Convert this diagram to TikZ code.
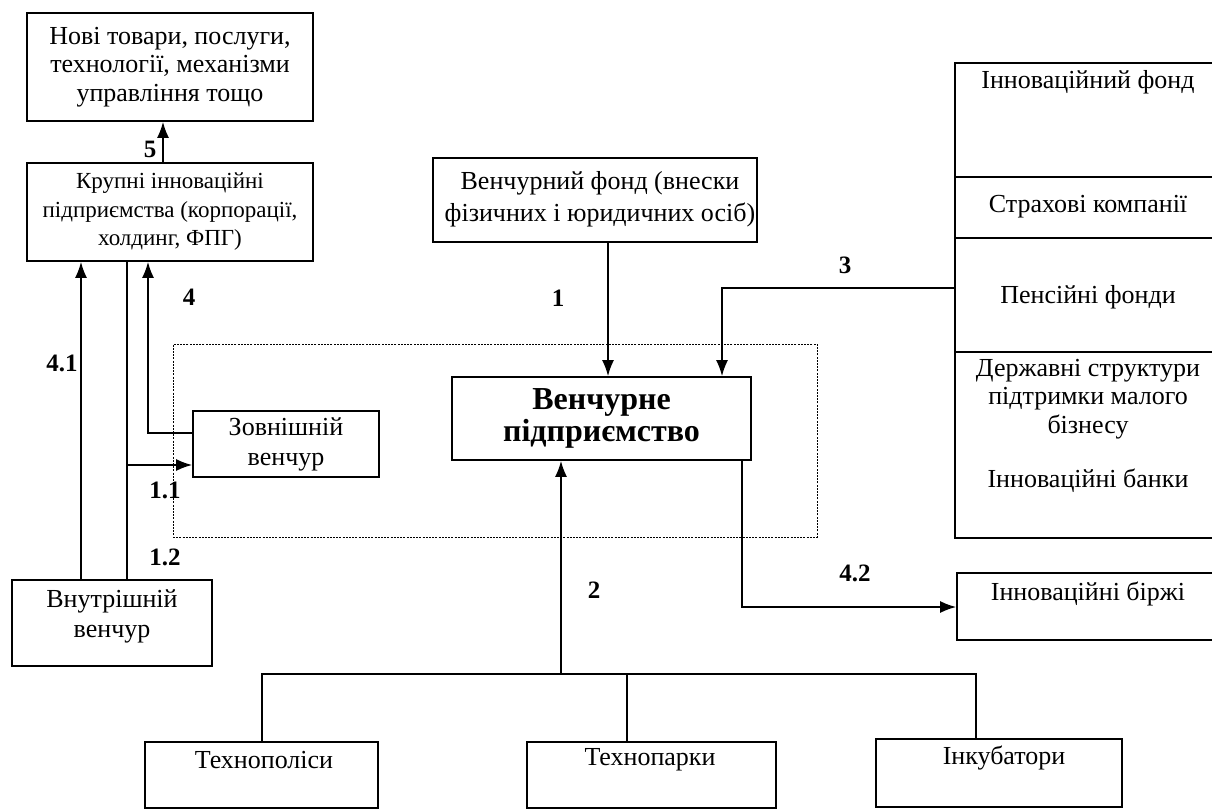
\documentclass[tikz,border=0pt]{standalone}
\usepackage{fontspec}
\setmainfont{Liberation Serif}
\usetikzlibrary{arrows.meta}
\begin{document}
\begin{tikzpicture}[x=1pt,y=-1pt,
  box/.style={draw, line width=1.8pt, inner sep=0pt, align=center, font=\fontsize{26}{28.5}\selectfont},
  txt/.style={inner sep=0pt, align=center, font=\fontsize{26}{28.5}\selectfont},
  num/.style={inner sep=0pt, font=\fontsize{25}{28}\selectfont\bfseries},
  conn/.style={line width=1.5pt},
  arr/.style={conn, -{Latex[length=16pt,width=12pt]}},
  zonestyle/.style={draw, line width=0.9pt, dash pattern=on 2pt off 1.2pt, inner sep=0pt}
]
\useasboundingbox (0,0) rectangle (1212,810);

% dashed zone
\node[zonestyle, minimum width=644, minimum height=193] (zone) at (495,440.5) {};

% left side boxes
\node[box, minimum width=286, minimum height=108] (nove) at (170,67)
  {Нові товари, послуги,\\технології, механізми\\управління тощо};
\node[box, minimum width=286, minimum height=98, font=\fontsize{23}{28.5}\selectfont] (krupni) at (170,212)
  {Крупні інноваційні\\підприємства (корпорації,\\холдинг, ФПГ)};
\node[box, minimum width=186, minimum height=66, font=\fontsize{26}{30}\selectfont] (zovn) at (286,444)
  {Зовнішній\\венчур};
\node[box, minimum width=200, minimum height=86] (vnutr) at (112,623) {};
\node[txt, font=\fontsize{26}{30}\selectfont] (vnutrt) at (112,616) {Внутрішній\\венчур};

% centre boxes
\node[box, minimum width=324, minimum height=84] (vfond) at (595,200) {};
\node[txt, font=\fontsize{26}{32}\selectfont] (vfondt) at (600,199) {Венчурний фонд (внески\\фізичних і юридичних осіб)};
\node[box, minimum width=299, minimum height=83, font=\fontsize{32}{32}\selectfont\bfseries] (venture) at (601.5,418.5)
  {Венчурне\\підприємство};

% bottom boxes
\node[box, minimum width=233, minimum height=66] (tpolis) at (261.5,775) {};
\node[txt] (tpolist) at (264,760) {Технополіси};
\node[box, minimum width=249, minimum height=66] (tpark) at (651.5,775) {};
\node[txt] (tparkt) at (650,760) {Технопарки};
\node[box, minimum width=246, minimum height=68] (inkub) at (999,773) {};
\node[txt] (inkubt) at (1004,758) {Інкубатори};

% right panel (runs off the right edge)
\begin{scope}
\clip (0,0) rectangle (1212,810);
\node[box, minimum width=277, minimum height=114] (innf) at (1093.5,120) {};
\node[box, minimum width=277, minimum height=61] (strakh) at (1093.5,207.5) {};
\node[box, minimum width=277, minimum height=114] (pens) at (1093.5,295) {};
\node[box, minimum width=277, minimum height=186] (derzh) at (1093.5,445) {};
\node[box, minimum width=275, minimum height=67] (birzhi) at (1094.5,606.5) {};
\end{scope}
\node[txt] (innft) at (1088,82) {Інноваційний фонд};
\node[txt] (strakht) at (1088,207) {Страхові компанії};
\node[txt] (penst) at (1088,297) {Пенсійні фонди};
\node[txt] (derzht) at (1088,399) {Державні структури\\підтримки малого\\бізнесу};
\node[txt] (bankt) at (1088,481) {Інноваційні банки};
\node[txt] (birzhit) at (1088,594) {Інноваційні біржі};

% helper coordinates
\coordinate (c41) at (81,0);
\coordinate (c12) at (127,0);
\coordinate (c4) at (148,0);
\coordinate (c5) at (163,0);
\coordinate (c4y) at (0,433);
\coordinate (c11y) at (0,465);
\coordinate (c1) at (608,0);
\coordinate (c3x) at (722,0);
\coordinate (c3y) at (0,288);
\coordinate (c2) at (561,0);
\coordinate (bus) at (0,674);
\coordinate (cb1) at (262,0);
\coordinate (cb2) at (627,0);
\coordinate (cb3) at (976,0);
\coordinate (c42) at (742,0);
\coordinate (c42y) at (0,607);

% connectors
\draw[arr] (krupni.north -| c5) -- (nove.south -| c5);
\draw[arr] (vnutr.north -| c41) -- (krupni.south -| c41);
\draw[conn] (krupni.south -| c12) -- (vnutr.north -| c12);
\draw[arr] (zovn.west |- c4y) -| (krupni.south -| c4);
\draw[arr] (c12 |- c11y) -- (zovn.west |- c11y);
\draw[arr] (vfond.south -| c1) -- (venture.north -| c1);
\draw[arr] (pens.west |- c3y) -| (venture.north -| c3x);
\draw[arr] (bus -| c2) -- (venture.south -| c2);
\draw[conn] (tpolis.north -| cb1) -- (cb1 |- bus) -- (cb3 |- bus) -- (inkub.north -| cb3);
\draw[conn] (tpark.north -| cb2) -- (cb2 |- bus);
\draw[arr] (venture.south -| c42) |- (birzhi.west |- c42y);

% labels
\node[num] (l5) at (150,149) {5};
\node[num] (l4) at (189,297) {4};
\node[num] (l41) at (62,363) {4.1};
\node[num] (l11) at (165,490) {1.1};
\node[num] (l12) at (165,557) {1.2};
\node[num] (l1) at (558,298) {1};
\node[num] (l3) at (845,265) {3};
\node[num] (l2) at (594,590) {2};
\node[num] (l42) at (855,573) {4.2};
\end{tikzpicture}
\end{document}
